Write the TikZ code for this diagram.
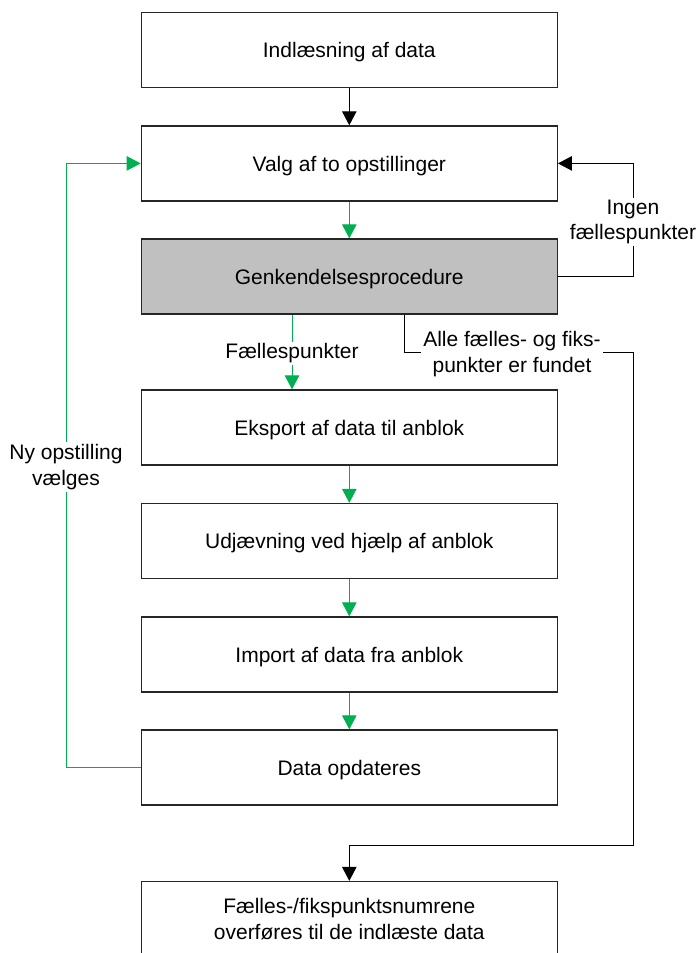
\documentclass[tikz,border=0pt]{standalone}
\usepackage{fontspec}
\setmainfont{Liberation Sans}
\usetikzlibrary{arrows.meta,calc}
\definecolor{flowgreen}{RGB}{0,176,80}
\definecolor{boxgray}{RGB}{192,192,192}
\begin{document}
\begin{tikzpicture}[x=1pt,y=-1pt,
  font=\fontsize{21}{25.5}\selectfont,
  stepbox/.style={draw=black!85,line width=1.3pt,fill=white,
    minimum width=416pt,minimum height=75pt,inner sep=0pt,align=center},
  onebox/.style={stepbox,text height=15.3pt,text depth=0pt},
  lbl/.style={fill=white,inner sep=2pt,align=center},
  blk/.style={draw=black,line width=1pt,-{Triangle[width=14.5pt,length=14pt]}},
  grn/.style={draw=flowgreen,line width=1pt,-{Triangle[width=14.5pt,length=14pt]}}]
\useasboundingbox (0,0) rectangle (697,953);

% process steps
\node[onebox] (b1) at (349.3,50) {Indlæsning af data};
\node[onebox] (b2) at (349.3,163.4) {Valg af to opstillinger};
\node[onebox,fill=boxgray] (b3) at (349.3,276.5) {Genkendelsesprocedure};
\node[onebox] (b4) at (349.3,427.5) {Eksport af data til anblok};
\node[onebox] (b5) at (349.3,541) {Udjævning ved hjælp af anblok};
\node[onebox] (b6) at (349.3,654.5) {Import af data fra anblok};
\node[onebox] (b7) at (349.3,767.5) {Data opdateres};
\node[stepbox] (b8) at (349.3,919) {Fælles-/fikspunktsnumrene\\overføres til de indlæste data};

% bend points of the loops
\coordinate (rtop) at (633,0 |- b2.east);
\coordinate (rmid) at (633,0 |- b3.east);
\coordinate (ltop) at (66,0 |- b2.west);
\coordinate (lbot) at (66,0 |- b7.west);
\coordinate (fstart) at (292,0 |- b3.south);
\coordinate (fend) at (292,0 |- b4.north);
\coordinate (astart) at (404.4,0 |- b3.south);
\coordinate (aknee) at (404.4,352);
\coordinate (aright) at (633,352);
\coordinate (adown) at (633,845.7);
\coordinate (aleft) at (b8.north |- adown);

% main flow
\draw[blk] (b1.south) -- (b2.north);
\draw[grn] (b2.south) -- (b3.north);
\draw[grn] (fstart) -- (fend);
\draw[grn] (b4.south) -- (b5.north);
\draw[grn] (b5.south) -- (b6.north);
\draw[grn] (b6.south) -- (b7.north);

% loop back when no common points are found
\draw[blk] (b3.east) -- (rmid) -- (rtop) -- (b2.east);
% loop back for a new setup
\draw[grn] (b7.west) -- (lbot) -- (ltop) -- (b2.west);
% exit when all points are found
\draw[blk] (astart) -- (aknee) -- (aright) -- (adown) -- (aleft) -- (b8.north);

% labels on the connectors
\node[lbl] (lingen) at (633,222) {Ingen\\fællespunkter};
\node[lbl] (lfaelles) at (292,353.5) {Fællespunkter};
\node[lbl] (lalle) at (512,354) {Alle fælles- og fiks-\\punkter er fundet};
\node[lbl] (lny) at (66,467) {Ny opstilling\\vælges};
\end{tikzpicture}
\end{document}
